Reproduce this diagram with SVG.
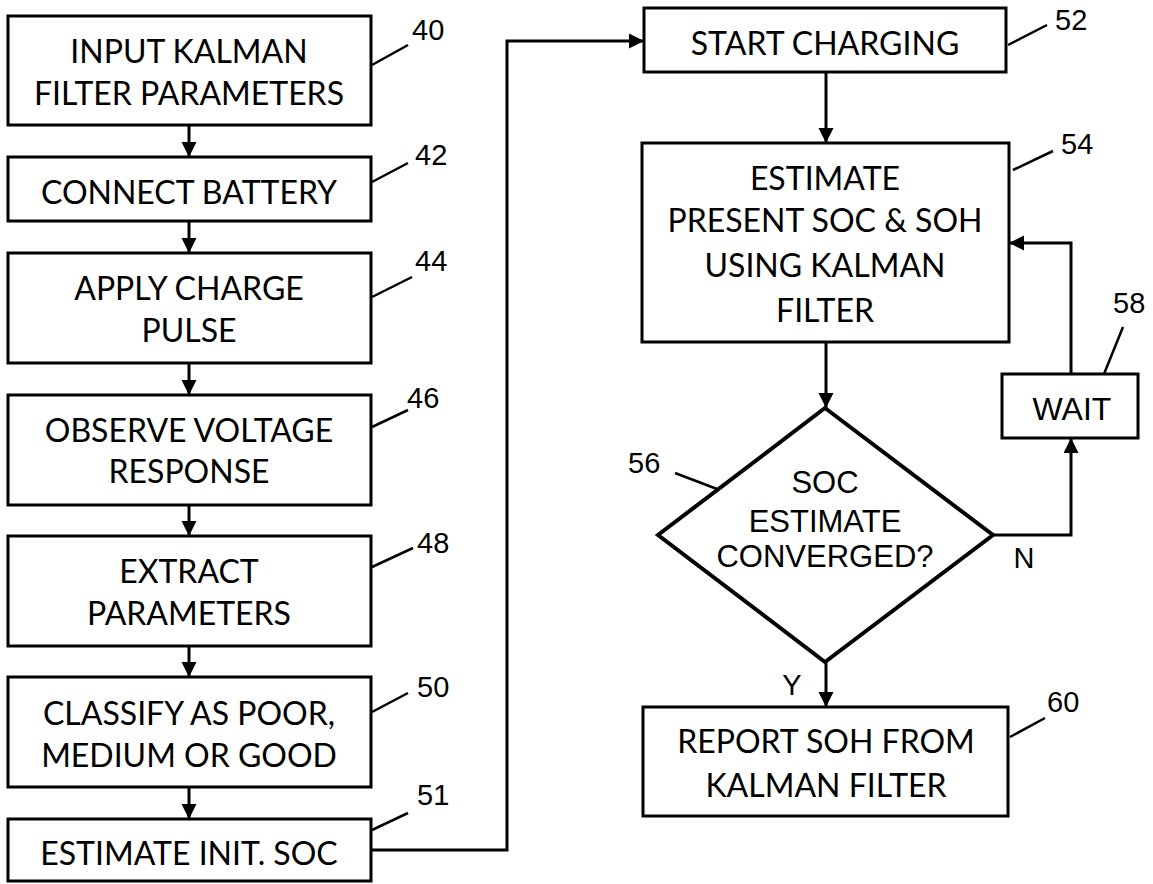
<svg xmlns="http://www.w3.org/2000/svg" width="1153" height="884" viewBox="0 0 1153 884">
<style>
.box{fill:#fff;stroke:#000;stroke-width:3}
.dia{fill:#fff;stroke:#000;stroke-width:4;stroke-linejoin:miter}
.t{font-family:Lato,"Open Sans",sans-serif;font-size:32px;text-anchor:middle;fill:#000}
.a{font-family:"Liberation Sans",Arial,sans-serif;font-size:31px;text-anchor:middle;fill:#000}
.ref{font-family:"Liberation Sans",Arial,sans-serif;font-size:29px;fill:#000}
.lead{stroke:#000;stroke-width:2.5;fill:none}
.conn{stroke:#000;stroke-width:3;fill:none}
</style>
<defs>
<marker id="ah" markerUnits="userSpaceOnUse" markerWidth="16" markerHeight="16" refX="15" refY="7.5" orient="auto">
<path d="M0,0 L15,7.5 L0,15 z" fill="#000"/>
</marker>
</defs>
<rect width="1153" height="884" fill="#fff"/>

<g id="connectors">
<line class="conn" x1="189" y1="125" x2="189" y2="157" marker-end="url(#ah)"/>
<line class="conn" x1="189" y1="221" x2="189" y2="253" marker-end="url(#ah)"/>
<line class="conn" x1="189" y1="363" x2="189" y2="395" marker-end="url(#ah)"/>
<line class="conn" x1="189" y1="505" x2="189" y2="536" marker-end="url(#ah)"/>
<line class="conn" x1="189" y1="646" x2="189" y2="677" marker-end="url(#ah)"/>
<line class="conn" x1="189" y1="787" x2="189" y2="819" marker-end="url(#ah)"/>
<polyline class="conn" points="371,850 507,850 507,41 644,41" marker-end="url(#ah)"/>
<line class="conn" x1="826" y1="72" x2="826" y2="143" marker-end="url(#ah)"/>
<line class="conn" x1="826" y1="342" x2="826" y2="408" marker-end="url(#ah)"/>
<line class="conn" x1="826" y1="662" x2="826" y2="707" marker-end="url(#ah)"/>
<polyline class="conn" points="993,535 1071,535 1071,438" marker-end="url(#ah)"/>
<polyline class="conn" points="1071,374 1071,243 1009,243" marker-end="url(#ah)"/>
<text class="ref" x="1024" y="568" text-anchor="middle">N</text>
<text class="ref" x="792" y="695" text-anchor="middle">Y</text>
</g>

<g id="n40">
<rect class="box" x="8" y="16" width="363" height="109"/>
<text class="t" x="189" y="63">INPUT KALMAN</text>
<text class="t" x="189" y="105">FILTER PARAMETERS</text>
<line class="lead" x1="372" y1="65" x2="408" y2="45"/>
<text class="ref" x="412" y="40">40</text>
</g>

<g id="n42">
<rect class="box" x="8" y="157" width="363" height="64"/>
<text class="t" x="189" y="204">CONNECT BATTERY</text>
<line class="lead" x1="372" y1="182" x2="408" y2="163"/>
<text class="ref" x="415" y="165">42</text>
</g>

<g id="n44">
<rect class="box" x="8" y="253" width="363" height="110"/>
<text class="t" x="189" y="300">APPLY CHARGE</text>
<text class="t" x="189" y="342">PULSE</text>
<line class="lead" x1="372" y1="297" x2="412" y2="277"/>
<text class="ref" x="415" y="271">44</text>
</g>

<g id="n46">
<rect class="box" x="8" y="395" width="363" height="110"/>
<text class="t" x="189" y="442">OBSERVE VOLTAGE</text>
<text class="t" x="189" y="483">RESPONSE</text>
<line class="lead" x1="372" y1="427" x2="408" y2="410"/>
<text class="ref" x="407" y="408">46</text>
</g>

<g id="n48">
<rect class="box" x="8" y="536" width="363" height="110"/>
<text class="t" x="189" y="583">EXTRACT</text>
<text class="t" x="189" y="625">PARAMETERS</text>
<line class="lead" x1="372" y1="567" x2="413" y2="548"/>
<text class="ref" x="417" y="553">48</text>
</g>

<g id="n50">
<rect class="box" x="8" y="677" width="363" height="110"/>
<text class="t" x="189" y="725">CLASSIFY AS POOR,</text>
<text class="t" x="189" y="767">MEDIUM OR GOOD</text>
<line class="lead" x1="372" y1="712" x2="408" y2="693"/>
<text class="ref" x="417" y="697">50</text>
</g>

<g id="n51">
<rect class="box" x="8" y="819" width="363" height="62"/>
<text class="t" x="189" y="865">ESTIMATE INIT. SOC</text>
<line class="lead" x1="372" y1="830" x2="408" y2="813"/>
<text class="ref" x="417" y="805">51</text>
</g>

<g id="n52">
<rect class="box" x="644" y="8" width="362" height="64"/>
<text class="t" x="825" y="55">START CHARGING</text>
<line class="lead" x1="1008" y1="45" x2="1047" y2="25"/>
<text class="ref" x="1055" y="30">52</text>
</g>

<g id="n54">
<rect class="box" x="642" y="143" width="367" height="199"/>
<text class="t" x="825" y="190">ESTIMATE</text>
<text class="t" x="825" y="232">PRESENT SOC &amp; SOH</text>
<text class="t" x="825" y="277">USING KALMAN</text>
<text class="t" x="825" y="322">FILTER</text>
<line class="lead" x1="1013" y1="170" x2="1053" y2="151"/>
<text class="ref" x="1061" y="154">54</text>
</g>

<g id="n56">
<polygon class="dia" points="825,408 993,535 825,662 658,535"/>
<text class="a" x="825" y="493">SOC</text>
<text class="a" x="825" y="532">ESTIMATE</text>
<text class="a" x="825" y="567">CONVERGED?</text>
<line class="lead" x1="675" y1="473" x2="717" y2="489"/>
<text class="ref" x="628" y="473">56</text>
</g>

<g id="n58">
<rect class="box" x="1002" y="374" width="136" height="64"/>
<text class="a" x="1072" y="420" style="font-size:32px">WAIT</text>
<line class="lead" x1="1104" y1="374" x2="1123" y2="327"/>
<text class="ref" x="1113" y="313">58</text>
</g>

<g id="n60">
<rect class="box" x="643" y="707" width="365" height="109"/>
<text class="t" x="826" y="753">REPORT SOH FROM</text>
<text class="t" x="826" y="797">KALMAN FILTER</text>
<line class="lead" x1="1010" y1="737" x2="1045" y2="718"/>
<text class="ref" x="1047" y="712">60</text>
</g>
</svg>
